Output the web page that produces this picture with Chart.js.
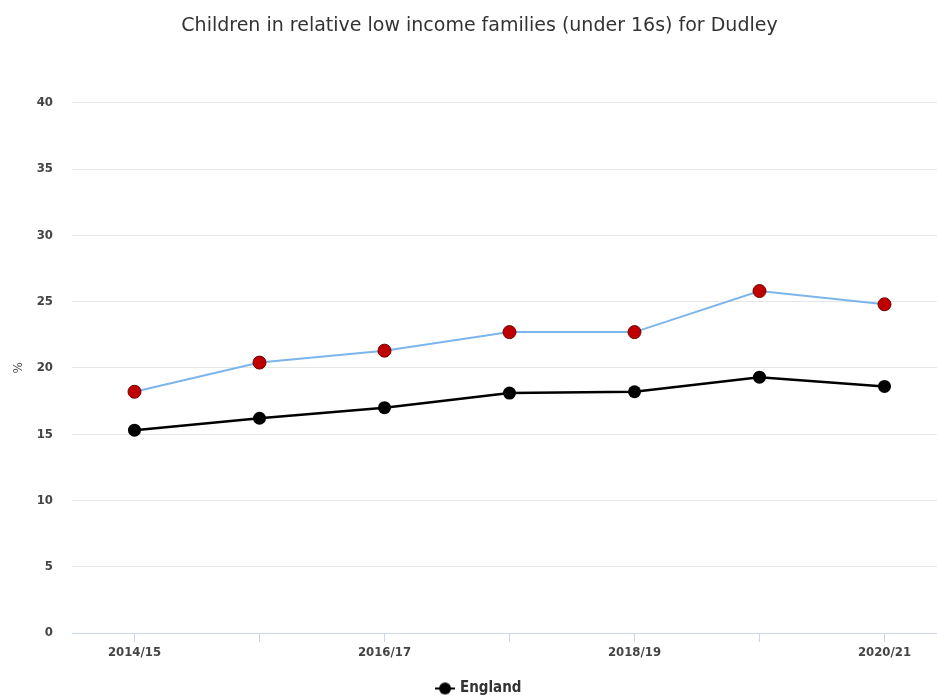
<!DOCTYPE html>
<html>
<head>
<meta charset="utf-8">
<script src="https://cdn.jsdelivr.net/npm/chart.js@4/dist/chart.umd.min.js"></script>
<style>
  html, body { margin: 0; padding: 0; background: #fff; overflow: hidden; }
  #wrap { width: 937px; height: 695px; overflow: hidden; }
</style>
</head>
<body>
<div id="wrap"><canvas id="chart" width="968" height="706"></canvas></div>
<script>
const years = ['2014/15', '2015/16', '2016/17', '2017/18', '2018/19', '2019/20', '2020/21'];
const dudley = [18.2, 20.4, 21.3, 22.7, 22.7, 25.8, 24.8];
const england = [15.3, 16.2, 17.0, 18.1, 18.2, 19.3, 18.6];
const yTicks = [0, 5, 10, 15, 20, 25, 30, 35, 40];

// legend symbol: line with a dot on it
function legendSymbol() {
  const c = document.createElement('canvas');
  c.width = 20; c.height = 14;
  const g = c.getContext('2d');
  g.strokeStyle = '#000';
  g.lineWidth = 2;
  g.beginPath(); g.moveTo(0, 7); g.lineTo(20, 7); g.stroke();
  g.fillStyle = '#000';
  g.beginPath(); g.arc(10, 7, 6, 0, Math.PI * 2); g.fill();
  return c;
}

const axisFont = { family: '"DejaVu Sans Condensed", "DejaVu Sans", sans-serif', size: 13, weight: 'bold' };

new Chart(document.getElementById('chart').getContext('2d'), {
  type: 'line',
  data: {
    labels: years,
    datasets: [
      {
        label: 'Dudley',
        data: dudley,
        borderColor: '#7cb5ec',
        borderWidth: 2,
        backgroundColor: '#c00000',
        pointBackgroundColor: '#c00000',
        pointBorderColor: '#700000',
        pointBorderWidth: 1,
        pointRadius: 6.5,
        tension: 0
      },
      {
        label: 'England',
        data: england,
        borderColor: '#000',
        borderWidth: 2.5,
        backgroundColor: '#000',
        pointBackgroundColor: '#000',
        pointBorderColor: '#000',
        pointBorderWidth: 0,
        pointRadius: 6.5,
        tension: 0
      }
    ]
  },
  options: {
    responsive: false,
    animation: false,
    layout: { padding: { left: 12, right: 21, top: 0, bottom: 0 } },
    plugins: {
      title: {
        display: true,
        text: 'Children in relative low income families (under 16s) for Dudley',
        color: '#333',
        font: { family: '"DejaVu Sans", sans-serif', size: 19, weight: 'normal' },
        padding: { top: 15, bottom: 65 }
      },
      legend: {
        position: 'bottom',
        labels: {
          filter: item => item.datasetIndex === 1,
          usePointStyle: true,
          pointStyle: legendSymbol(),
          color: '#333',
          font: { family: '"DejaVu Sans Condensed", "DejaVu Sans", sans-serif', size: 15, weight: 'bold' },
          padding: 4
        }
      },
      tooltip: { enabled: false }
    },
    scales: {
      x: {
        offset: true,
        grid: { offset: false, drawOnChartArea: false, drawTicks: true, tickLength: 9, color: '#ccd6eb' },
        border: { color: '#ccd6eb' },
        ticks: {
          autoSkip: false,
          maxRotation: 0,
          color: '#444',
          font: axisFont,
          padding: 3,
          callback: function (v, i) { return i % 2 === 0 ? years[i] : ''; }
        },
        afterFit: axis => { axis.height = 44; }
      },
      y: {
        min: 0,
        max: 40,
        afterBuildTicks: axis => { axis.ticks = yTicks.map(v => ({ value: v })); },
        grid: { color: '#e6e6e6', drawTicks: false },
        border: { display: false },
        ticks: { color: '#444', font: axisFont, padding: 19 },
        title: { display: true, text: '%', color: '#555', font: { family: '"DejaVu Sans", sans-serif', size: 12 }, padding: { top: 0, bottom: 4 } },
        afterFit: axis => { axis.width = 60; }
      }
    }
  }
});
</script>
</body>
</html>
